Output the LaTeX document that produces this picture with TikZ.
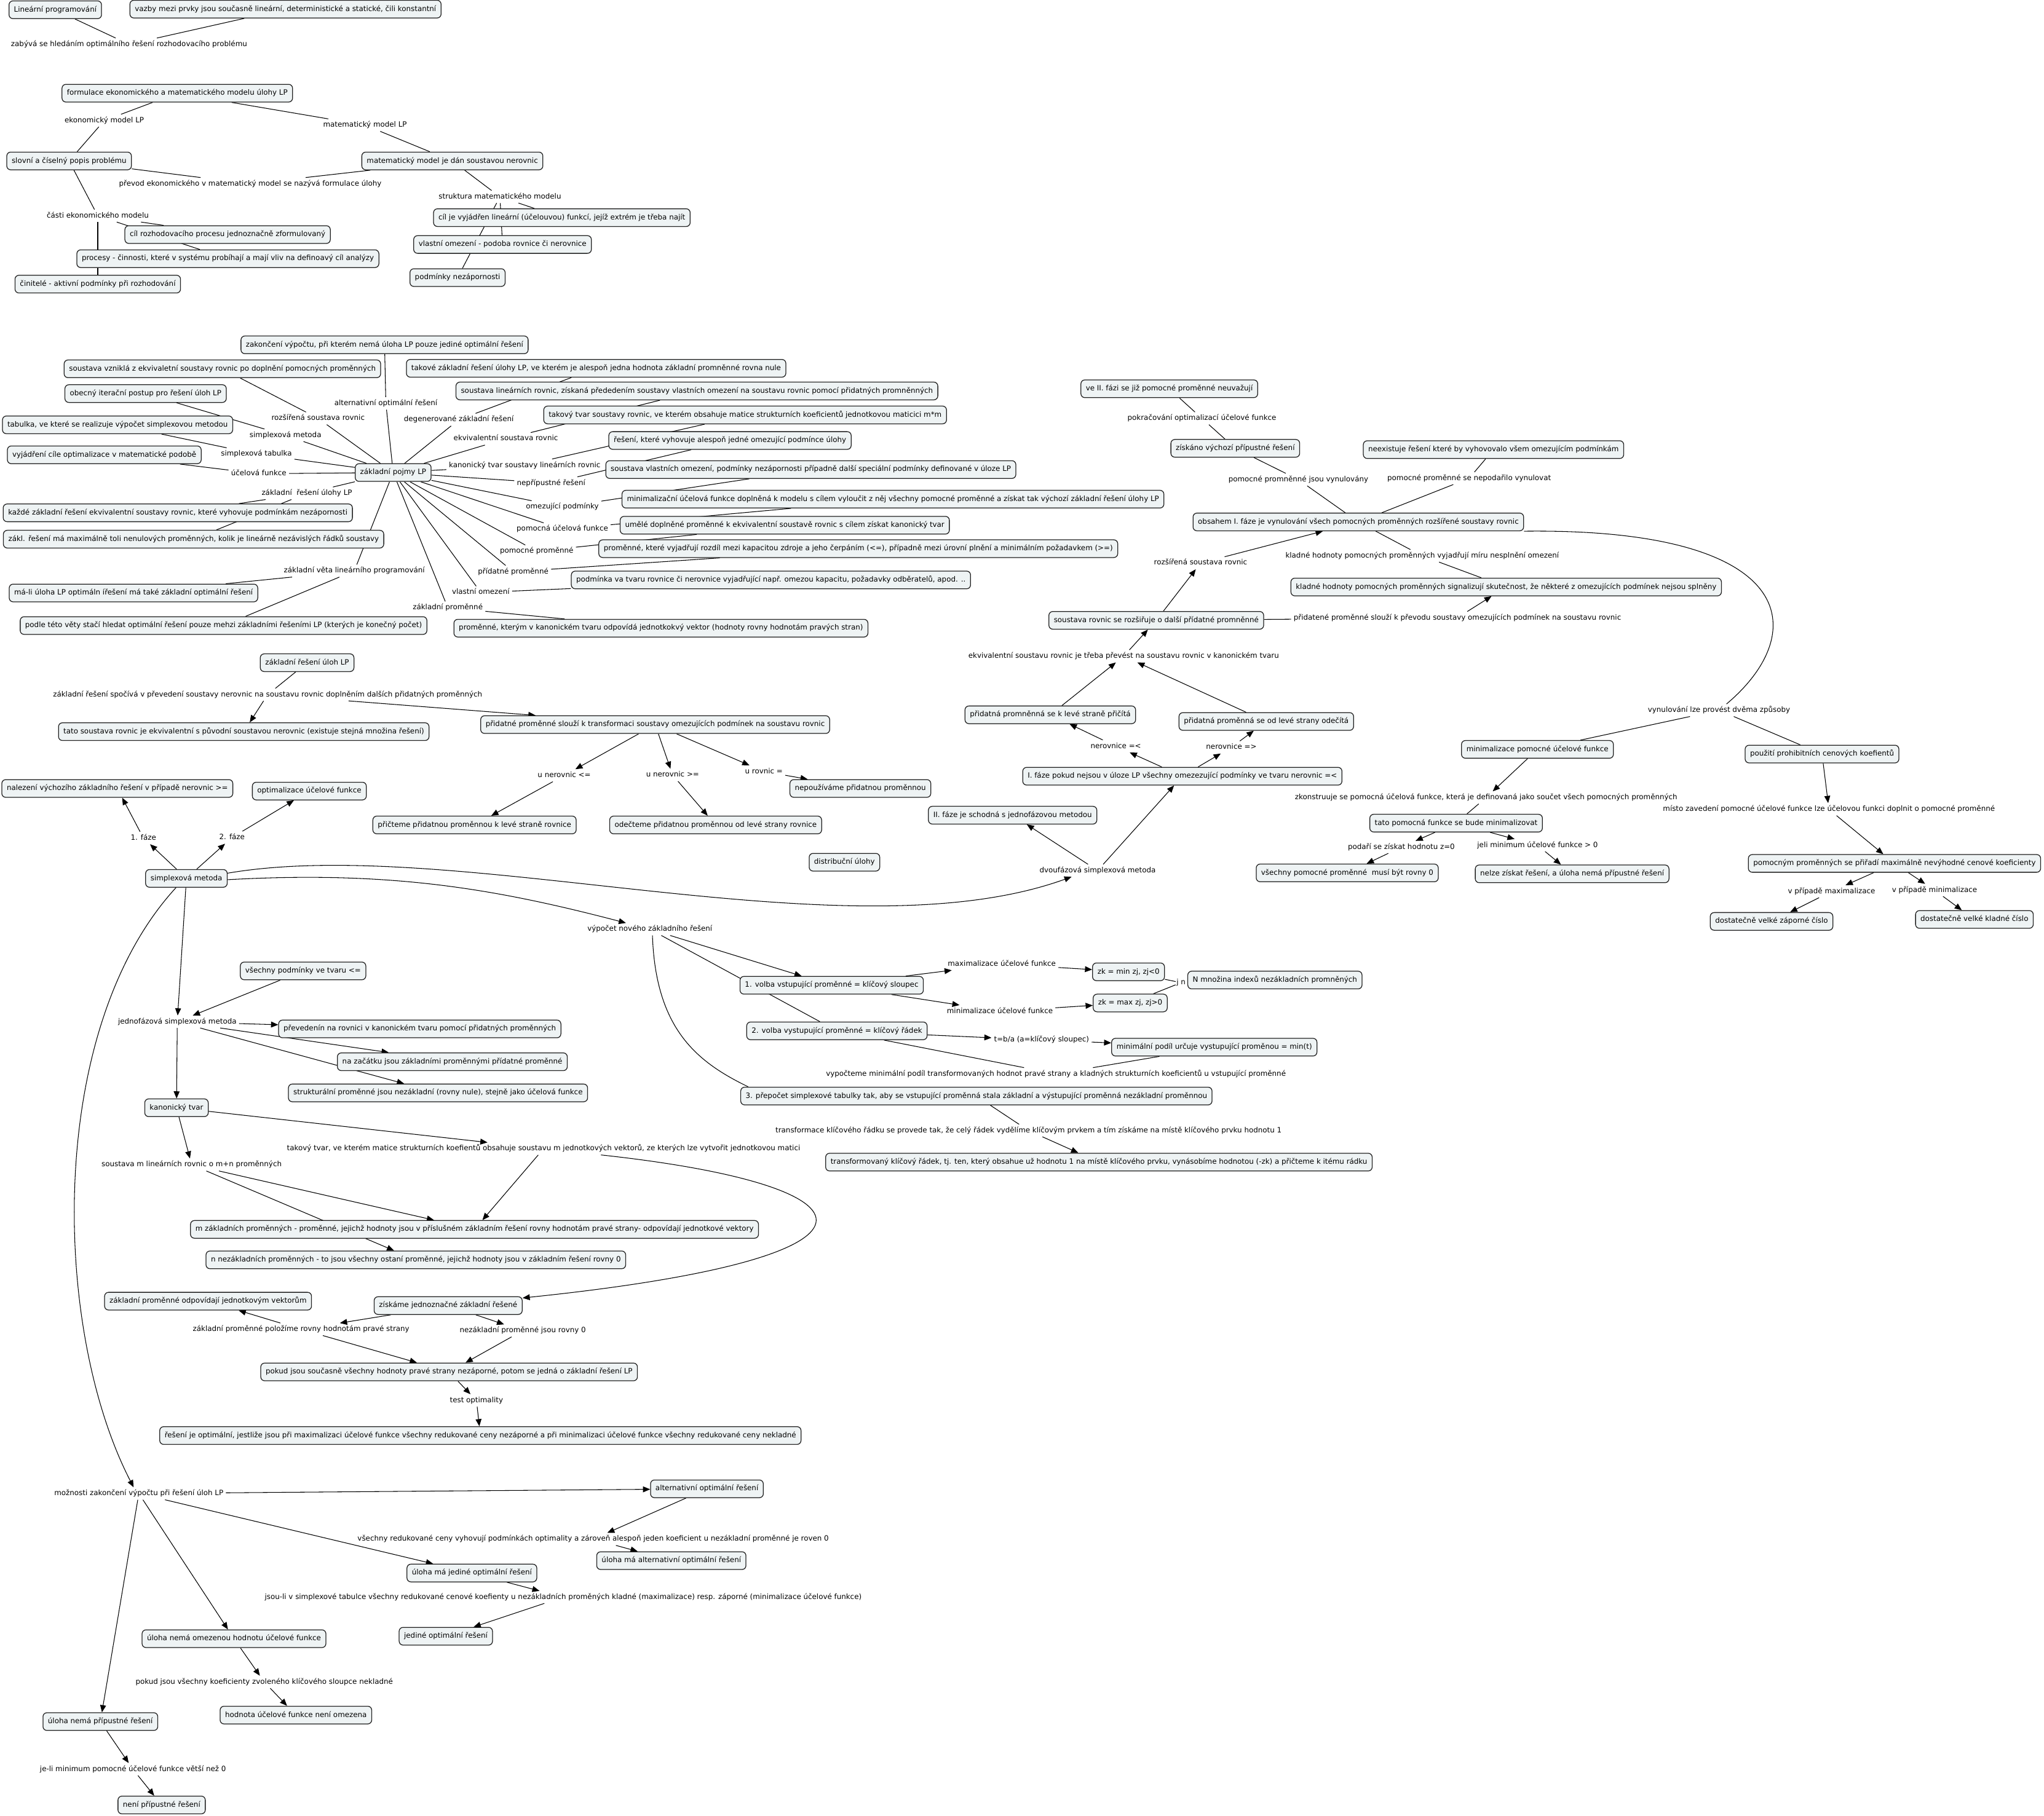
\documentclass[tikz,border=0pt]{standalone}
\usepackage{fontspec}
\setmainfont{DejaVu Sans}
\usetikzlibrary{arrows.meta,backgrounds}
\definecolor{boxfill}{RGB}{238,243,244}
\definecolor{boxline}{RGB}{35,35,35}
\begin{document}
\begin{tikzpicture}[x=1pt,y=-1pt]
\tikzset{txt/.style={font=\fontsize{5.6}{6.6}\selectfont,text height=4.3pt,text depth=1.3pt},
  box/.style={txt,draw=boxline,fill=boxfill,rounded corners=3pt,line width=0.6pt,inner xsep=3.8pt,inner ysep=4pt},
  lbl/.style={txt,inner sep=1.8pt},
  ln/.style={line width=0.5pt},
  arr/.style={line width=0.5pt,-{Triangle[length=5.5pt,width=4.5pt]}}}
\useasboundingbox (0,0) rectangle (1568,1393);

\node[box] (lp) at (42.4,7.5) {Lineární programování};
\node[box] (vazby) at (219,7) {vazby mezi prvky jsou současně lineární, deterministické a statické, čili konstantní};
\node[lbl] (zabyva) at (99,34) {zabývá se hledáním optimálního řešení rozhodovacího problému};

\node[box] (formul) at (136,71.5) {formulace ekonomického a matematického modelu úlohy LP};
\node[lbl] (ekmod) at (80,92.5) {ekonomický model LP};
\node[lbl] (matmod) at (280,96) {matematický model LP};
\node[box] (popis) at (53,123.5) {slovní a číselný popis problému};
\node[box] (nerovnic) at (347,123.5) {matematický model je dán soustavou nerovnic};
\node[lbl] (prevod) at (192,141) {převod ekonomického v matematický model se nazývá formulace úlohy};
\node[lbl] (strukt) at (383.5,151) {struktura matematického modelu};
\node[lbl] (casti) at (75,165.6) {části ekonomického modelu};
\node[box] (cilfce) at (431,167) {cíl je vyjádřen lineární (účelouvou) funkcí, jejíž extrém je třeba najít};
\node[box] (cilproc) at (174.6,180) {cíl rozhodovacího procesu jednoznačně zformulovaný};
\node[box] (vlomez) at (385.5,187.6) {vlastní omezení - podoba rovnice či nerovnice};
\node[box] (procesy) at (174.8,198.5) {procesy - činnosti, které v systému probíhají a mají vliv na definoavý cíl analýzy};
\node[box] (nezap) at (351,213) {podmínky nezápornosti};
\node[box] (cinitele) at (75,218) {činitelé - aktivní podmínky při rozhodování};

\node[box] (pojmy) at (301.6,362.6) {základní pojmy LP};
\node[box] (zakonceni) at (295,264.6) {zakončení výpočtu, při kterém nemá úloha LP pouze jediné optimální řešení};
\node[box] (vznikla) at (170.6,283) {soustava vzniklá z ekvivaletní soustavy rovnic po doplnění pomocných proměnných};
\node[box] (degdef) at (457.3,282.6) {takové základní řešení úlohy LP, ve kterém je alespoň jedna hodnota základní promněnné rovna nule};
\node[box] (iterace) at (111.7,302) {obecný iterační postup pro řešení úloh LP};
\node[box] (ekvdef) at (534.6,300) {soustava lineárních rovnic, získaná přededením soustavy vlastních omezení na soustavu rovnic pomocí přidatných promněnných};
\node[lbl] (altopt) at (296,309.5) {alternativní optimální řešení};
\node[box] (kandef) at (571.6,318.4) {takový tvar soustavy rovnic, ve kterém obsahuje matice strukturních koeficientů jednotkovou maticici m*m};
\node[box] (tabdef) at (90.2,326) {tabulka, ve které se realizuje výpočet simplexovou metodou};
\node[lbl] (rozsir) at (244,321) {rozšířená soustava rovnic};
\node[lbl] (degen) at (352,322) {degenerované základní řešení};
\node[lbl] (smetoda) at (219,334) {simplexová metoda};
\node[box] (nepdef) at (560,338) {řešení, které vyhovuje alespoň jedné omezující podmínce úlohy};
\node[lbl] (ekviv) at (388,336.7) {ekvivalentní soustava rovnic};
\node[box] (ucdef) at (80,349) {vyjádření cíle optimalizace v matematické podobě};
\node[lbl] (stab) at (196.7,348.4) {simplexová tabulka};
\node[lbl] (kanon) at (402.5,357) {kanonický tvar soustavy lineárních rovnic};
\node[box] (omdef) at (622,360.3) {soustava vlastních omezení, podmínky nezápornosti případně další speciální podmínky definované v úloze LP};
\node[lbl] (ucel) at (198.5,363.5) {účelová funkce};
\node[lbl] (neprip) at (422.8,370.7) {nepřípustné řešení};
\node[lbl] (zres) at (235.4,378.5) {základní\ \ řešení úlohy LP};
\node[box] (pufdef) at (685,383) {minimalizační účelová funkce doplněná k modelu s cílem vyloučit z něj všechny pomocné proměnné a získat tak výchozí základní řešení úlohy LP};
\node[lbl] (omez) at (431.4,389) {omezující podmínky};
\node[box] (kazde) at (136.4,393.5) {každé základní řešení ekvivalentní soustavy rovnic, které vyhovuje podmínkám nezápornosti};
\node[box] (pomdef) at (602,403) {umělé doplněné proměnné k ekvivalentní soustavě rovnic s cílem získat kanonický tvar};
\node[lbl] (puf) at (431.4,406) {pomocná účelová funkce};
\node[box] (zakl) at (148.5,413.7) {zákl. řešení má maximálně toli nenulových proměnných, kolik je lineárně nezávislých řádků soustavy};
\node[box] (priddef) at (658.4,421) {proměnné, které vyjadřují rozdíl mezi kapacitou zdroje a jeho čerpáním (<=), případně mezi úrovní plnění a minimálním požadavkem (>=)};
\node[lbl] (pomprom) at (411.7,423) {pomocné proměnné};
\node[lbl] (veta) at (271.8,438) {základní věta lineárního programování};
\node[lbl] (pridprom) at (393.7,438.7) {přídatné proměnné};
\node[box] (vldef) at (591.4,445) {podmínka va tvaru rovnice či nerovnice vyjadřující např. omezou kapacitu, požadavky odběratelů, apod. ..};
\node[lbl] (vlom) at (368.8,454.6) {vlastní omezení};
\node[box] (mali) at (102.4,455) {má-li úloha LP optimáln ířešení má také základní optimální řešení};
\node[lbl] (zprom) at (343.5,466.3) {základní proměnné};
\node[box] (podle) at (171.5,480) {podle této věty stačí hledat optimální řešení pouze mehzi základními řešeními LP (kterých je konečný počet)};
\node[box] (zpdef) at (507,482) {proměnné, kterým v kanonickém tvaru odpovídá jednotkokvý vektor (hodnoty rovny hodnotám pravých stran)};

\node[box] (zrul) at (235.6,508.5) {základní řešení úloh LP};
\node[lbl] (spociva) at (205.3,533) {základní řešení spočívá v převedení soustavy nerovnic na soustavu rovnic doplněním dalších přidatných proměnných};
\node[box] (ekvnerov) at (187,561.4) {tato soustava rovnic je ekvivalentní s původní soustavou nerovnic (existuje stejná množina řešení)};
\node[box] (transf) at (502.6,556) {přidatné proměnné slouží k transformaci soustavy omezujících podmínek na soustavu rovnic};
\node[lbl] (unle) at (432.8,595) {u nerovnic <=};
\node[lbl] (unge) at (516,594.7) {u nerovnic >=};
\node[lbl] (ueq) at (586,592) {u rovnic =};
\node[box] (pricteme) at (364,633) {přičteme přidatnou proměnnou k levé straně rovnice};
\node[box] (odecteme) at (549,633) {odečteme přidatnou proměnnou od levé strany rovnice};
\node[box] (nepouz) at (660,605) {nepoužíváme přidatnou proměnnou};
\node[box] (distrib) at (647.8,661.6) {distribuční úlohy};

\node[box] (simplex) at (143,674) {simplexová metoda};
\node[lbl] (faze1) at (110,643) {1. fáze};
\node[lbl] (faze2) at (178,642.6) {2. fáze};
\node[box] (nalez) at (90,605) {nalezení výchozího základního řešení v případě nerovnic >=};
\node[box] (optuc) at (237.3,607) {optimalizace účelové funkce};

\node[lbl] (jednof) at (136,784) {jednofázová simplexová metoda};
\node[box] (vsepod) at (232.5,745) {všechny podmínky ve tvaru <=};
\node[box] (preved) at (322,789.5) {převedenín na rovnici v kanonickém tvaru pomocí přidatných proměnných};
\node[box] (nazac) at (347,814.7) {na začátku jsou základními proměnnými přídatné proměnné};
\node[box] (strukt0) at (336,838.6) {strukturální proměnné jsou nezákladní (rovny nule), stejně jako účelová funkce};
\node[box] (kanon2) at (135.4,850) {kanonický tvar};

\node[lbl] (taktvar) at (417,881.4) {takový tvar, ve kterém matice strukturních koefientů obsahuje soustavu m jednotkových vektorů, ze kterých lze vytvořit jednotkovou matici};
\node[lbl] (soustm) at (147,893.7) {soustava m lineárních rovnic o m+n proměnných};
\node[box] (mzakl) at (364,943.3) {m základních proměnných - proměnné, jejichž hodnoty jsou v příslušném základním řešení rovny hodnotám pravé strany- odpovídají jednotkové vektory};
\node[box] (nnezakl) at (319,966.7) {n nezákladních proměnných - to jsou všechny ostaní proměnné, jejichž hodnoty jsou v základním řešení rovny 0};
\node[box] (zpjv) at (159.6,998.4) {základní proměnné odpovídají jednotkovým vektorům};
\node[box] (ziskame) at (343.8,1001.8) {získáme jednoznačné základní řešené};

\node[lbl] (polozime) at (231,1020) {základní proměnné položíme rovny hodnotám pravé strany};
\node[lbl] (nezrovny) at (401,1021) {nezákladní proměnné jsou rovny 0};
\node[box] (pokud) at (344.5,1052.7) {pokud jsou současně všechny hodnoty pravé strany nezáporné, potom se jedná o základní řešení LP};
\node[lbl] (test) at (365.5,1074.6) {test optimality};
\node[box] (optim) at (368.5,1101.5) {řešení je optimální, jestliže jsou při maximalizaci účelové funkce všechny redukované ceny nezáporné a při minimalizaci účelové funkce všechny redukované ceny nekladné};

\node[lbl] (moznosti) at (106.5,1146) {možnosti zakončení výpočtu při řešení úloh LP};
\node[box] (altbox) at (542.3,1142.4) {alternativní optimální řešení};
\node[lbl] (vsred) at (455,1181) {všechny redukované ceny vyhovují podmínkách optimality a zároveň alespoň jeden koeficient u nezákladní proměnné je roven 0};
\node[box] (ulalt) at (515,1197.5) {úloha má alternativní optimální řešení};
\node[box] (uljed) at (362,1207) {úloha má jediné optimální řešení};
\node[lbl] (jsouli) at (432,1225.5) {jsou-li v simplexové tabulce všechny redukované cenové koefienty u nezákladních proměných kladné (maximalizace) resp. záporné (minimalizace účelové funkce)};
\node[box] (jedopt) at (342,1255.5) {jediné optimální řešení};
\node[box] (neomez) at (179.5,1257.4) {úloha nemá omezenou hodnotu účelové funkce};
\node[lbl] (koefnekl) at (202.7,1290.6) {pokud jsou všechny koeficienty zvoleného klíčového sloupce nekladné};
\node[box] (hodnota) at (227,1316) {hodnota účelové funkce není omezena};
\node[box] (nepripb) at (77,1321) {úloha nemá přípustné řešení};
\node[lbl] (jelimin) at (102,1357.6) {je-li minimum pomocné účelové funkce větší než 0};
\node[box] (neni) at (124,1385) {není přípustné řešení};

\node[lbl] (vyp) at (498.5,713) {výpočet nového základního řešení};
\node[box] (volba1) at (638,756) {1. volba vstupující proměnné = klíčový sloupec};
\node[box] (volba2) at (642,791) {2. volba vystupující proměnné = klíčový řádek};
\node[box] (prepocet) at (749,841) {3. přepočet simplexové tabulky tak, aby se vstupující proměnná stala základní a výstupující proměnná nezákladní proměnnou};
\node[lbl] (maxim) at (768.5,739.7) {maximalizace účelové funkce};
\node[lbl] (minim) at (767,776) {minimalizace účelové funkce};
\node[box] (zkmin) at (865.7,745.7) {zk = min zj, zj<0};
\node[box] (zkmax) at (867,769.6) {zk = max zj, zj>0};
\node[lbl,inner sep=0.5pt] (jn) at (906,754) {j n};
\node[box] (nbox) at (978,752) {N množina indexů nezákladních promněných};
\node[lbl] (tba) at (799,798) {t=b/a (a=klíčový sloupec)};
\node[box] (minpod) at (931.5,803.5) {minimální podíl určuje vystupující proměnou = min(t)};
\node[lbl] (vypoct) at (810,824) {vypočteme minimální podíl transformovaných hodnot pravé strany a kladných strukturních koeficientů u vstupující proměnné};
\node[lbl] (transl) at (789,867.5) {transformace klíčového řádku se provede tak, že celý řádek vydělíme klíčovým prvkem a tím získáme na místě klíčového prvku hodnotu 1};
\node[box] (transfbox) at (843,891.7) {transformovaný klíčový řádek, tj. ten, který obsahue už hodnotu 1 na místě klíčového prvku, vynásobíme hodnotou (-zk) a přičteme k itému rádku};

\node[lbl] (dvou) at (842,668) {dvoufázová simplexová metoda};
\node[box] (faze1box) at (907,595.6) {I. fáze pokud nejsou v úloze LP všechny omezezující podmínky ve tvaru nerovnic =<};
\node[box] (faze2box) at (776.8,625.5) {II. fáze je schodná s jednofázovou metodou};
\node[lbl] (ner1) at (856,572.6) {nerovnice =<};
\node[lbl] (ner2) at (944.6,573.4) {nerovnice =>};
\node[box] (pricita) at (805.7,548.5) {přidatná promněnná se k levé straně přičítá};
\node[box] (odecita) at (971.4,553.6) {přidatná proměnná se od levé strany odečítá};
\node[lbl] (ekvcan) at (862,503.5) {ekvivalentní soustavu rovnic je třeba převést na soustavu rovnic v kanonickém tvaru};
\node[box] (rozsiruje) at (887,476) {soustava rovnic se rozšiřuje o další přídatné promněnné};
\node[lbl] (rozsir2) at (921,432) {rozšířená soustava rovnic};
\node[lbl] (pridat) at (1118,474) {přidatené proměnné slouží k převodu soustavy omezujících podmínek na soustavu rovnic};
\node[box] (obsahem) at (1042,400.5) {obsahem I. fáze je vynulování všech pomocných proměnných rozšířené soustavy rovnic};
\node[lbl] (kladvyj) at (1091,426.5) {kladné hodnoty pomocných proměnných vyjadřují míru nesplnění omezení};
\node[box] (kladsig) at (1155.4,450.4) {kladné hodnoty pomocných proměnných signalizují skutečnost, že některé z omezujících podmínek nejsou splněny};
\node[lbl] (vynul) at (996,368) {pomocné promněnné jsou vynulovány};
\node[lbl] (nepod) at (1127,367) {pomocné proměnné se nepodařilo vynulovat};
\node[box] (ziskano) at (947.6,344) {získáno výchozí přípustné řešení};
\node[box] (neexist) at (1145.7,345) {neexistuje řešení které by vyhovovalo všem omezujícím podmínkám};
\node[lbl] (pokrac) at (922,321) {pokračování optimalizací účelové funkce};
\node[box] (ve2) at (897,298.3) {ve II. fázi se již pomocné proměnné neuvažují};

\node[lbl] (vynulovani) at (1318.7,545) {vynulování lze provést dvěma způsoby};
\node[box] (minpuf) at (1179.4,575) {minimalizace pomocné účelové funkce};
\node[box] (pouziti) at (1397.7,578.6) {použití prohibitních cenových koefientů};
\node[lbl] (zkonstr) at (1140,612) {zkonstruuje se pomocná účelová funkce, která je definovaná jako součet všech pomocných proměnných};
\node[box] (tato) at (1117,631.6) {tato pomocná funkce se bude minimalizovat};
\node[lbl] (podari) at (1075,650) {podaří se získat hodnotu z=0};
\node[lbl] (jeli) at (1179.5,648.6) {jeli minimum účelové funkce > 0};
\node[box] (vsechpom) at (1033.5,669.8) {všechny pomocné proměnné\ \ musí být rovny 0};
\node[box] (nelze) at (1206,670.5) {nelze získat řešení, a úloha nemá přípustné řešení};
\node[lbl] (misto) at (1403,621) {místo zavedení pomocné účelové funkce lze účelovou funkci doplnit o pomocné proměnné};
\node[box] (pomocnym) at (1453.3,662.5) {pomocným proměnných se přiřadí maximálně nevýhodné cenové koeficienty};
\node[lbl] (vpmax) at (1405,684) {v případě maximalizace};
\node[lbl] (vpmin) at (1484,683) {v případě minimalizace};
\node[box] (zaporne) at (1359,707) {dostatečně velké záporné číslo};
\node[box] (kladne) at (1514.6,705.5) {dostatečně velké kladné číslo};

\begin{scope}[on background layer]
\draw[ln] (lp) -- (zabyva);
\draw[ln] (vazby) -- (zabyva);
\draw[ln] (formul) -- (ekmod);
\draw[ln] (ekmod) -- (popis);
\draw[ln] (formul) -- (matmod);
\draw[ln] (matmod) -- (nerovnic);
\draw[ln] (popis) -- (prevod);
\draw[ln] (nerovnic) -- (prevod);
\draw[ln] (nerovnic) -- (strukt);
\draw[ln] (strukt) -- (cilfce);
\draw[ln] (strukt) -- (vlomez);
\draw[ln] (strukt) -- (nezap);
\draw[ln] (popis) -- (casti);
\draw[ln] (casti) -- (cilproc);
\draw[ln] (casti) -- (procesy);
\draw[ln] (casti) -- (cinitele);

\draw[ln] (pojmy) -- (altopt);
\draw[ln] (altopt) -- (zakonceni);
\draw[ln] (pojmy) -- (rozsir);
\draw[ln] (rozsir) -- (vznikla);
\draw[ln] (pojmy) -- (degen);
\draw[ln] (degen) -- (degdef);
\draw[ln] (pojmy) -- (smetoda);
\draw[ln] (smetoda) -- (iterace);
\draw[ln] (pojmy) -- (ekviv);
\draw[ln] (ekviv) -- (ekvdef);
\draw[ln] (pojmy) -- (stab);
\draw[ln] (stab) -- (tabdef);
\draw[ln] (pojmy) -- (kanon);
\draw[ln] (kanon) -- (kandef);
\draw[ln] (pojmy) -- (ucel);
\draw[ln] (ucel) -- (ucdef);
\draw[ln] (pojmy) -- (neprip);
\draw[ln] (neprip) -- (nepdef);
\draw[ln] (pojmy) -- (zres);
\draw[ln] (zres) -- (kazde);
\draw[ln] (zres) -- (zakl);
\draw[ln] (pojmy) -- (omez);
\draw[ln] (omez) -- (omdef);
\draw[ln] (pojmy) -- (puf);
\draw[ln] (puf) -- (pufdef);
\draw[ln] (pojmy) -- (pomprom);
\draw[ln] (pomprom) -- (pomdef);
\draw[ln] (pojmy) -- (veta);
\draw[ln] (veta) -- (mali);
\draw[ln] (veta) -- (podle);
\draw[ln] (pojmy) -- (pridprom);
\draw[ln] (pridprom) -- (priddef);
\draw[ln] (pojmy) -- (vlom);
\draw[ln] (vlom) -- (vldef);
\draw[ln] (pojmy) -- (zprom);
\draw[ln] (zprom) -- (zpdef);

\draw[ln] (zrul) -- (spociva);
\draw[arr] (spociva) -- (ekvnerov);
\draw[arr] (spociva) -- (transf);
\draw[arr] (transf) -- (unle);
\draw[arr] (unle) -- (pricteme);
\draw[arr] (transf) -- (unge);
\draw[arr] (unge) -- (odecteme);
\draw[arr] (transf) -- (ueq);
\draw[arr] (ueq) -- (nepouz);

\draw[arr] (simplex) -- (faze1);
\draw[arr] (faze1) -- (nalez);
\draw[arr] (simplex) -- (faze2);
\draw[arr] (faze2) -- (optuc);
\draw[arr] ([yshift=4pt]simplex.east) .. controls (350,640) and (650,735) .. ([xshift=-20pt]dvou.south);
\draw[arr] ([yshift=-1pt]simplex.east) .. controls (300,668) and (380,682) .. (vyp);
\draw[arr] ([xshift=-8pt]simplex.south) .. controls (35,790) and (40,1020) .. ([xshift=-4pt]moznosti.north);
\draw[arr] (simplex) -- (jednof);

\draw[arr] (vsepod) -- (jednof);
\draw[arr] (jednof) -- (preved);
\draw[arr] (jednof) -- (nazac);
\draw[arr] (jednof) -- (strukt0);
\draw[arr] (jednof) -- (kanon2);
\draw[arr] (kanon2) -- (taktvar);
\draw[arr] (kanon2) -- (soustm);
\draw[arr] (soustm) -- (mzakl);
\draw[arr] (soustm) -- (nnezakl);
\draw[arr] (taktvar) -- (mzakl);
\draw[arr] ([xshift=44pt]taktvar.south) .. controls (680,910) and (700,965) .. (ziskame);

\draw[arr] (ziskame) -- (polozime);
\draw[arr] (ziskame) -- (nezrovny);
\draw[arr] (polozime) -- (zpjv);
\draw[arr] (polozime) -- (pokud);
\draw[arr] (nezrovny) -- (pokud);
\draw[arr] (pokud) -- (test);
\draw[arr] (test) -- (optim);

\draw[arr] (moznosti) -- (altbox);
\draw[arr] (altbox) -- (vsred);
\draw[arr] (vsred) -- (ulalt);
\draw[arr] (moznosti) -- (uljed);
\draw[arr] (uljed) -- (jsouli);
\draw[arr] (jsouli) -- (jedopt);
\draw[arr] (moznosti) -- (neomez);
\draw[arr] (neomez) -- (koefnekl);
\draw[arr] (koefnekl) -- (hodnota);
\draw[arr] (moznosti) -- (nepripb);
\draw[arr] (nepripb) -- (jelimin);
\draw[arr] (jelimin) -- (neni);

\draw[arr] (vyp) -- (volba1);
\draw[ln] (vyp) -- (volba2);
\draw[ln] ([xshift=2pt]vyp.south) .. controls (503,790) and (535,815) .. ([xshift=6pt]prepocet.north west);
\draw[arr] (volba1) -- (maxim);
\draw[arr] (maxim) -- (zkmin);
\draw[arr] (volba1) -- (minim);
\draw[arr] (minim) -- (zkmax);
\draw[ln] (zkmin) -- (jn);
\draw[ln] (zkmax) -- (jn);
\draw[arr] (volba2) -- (tba);
\draw[arr] (tba) -- (minpod);
\draw[ln] (volba2) -- (vypoct);
\draw[ln] (minpod) -- (vypoct);
\draw[ln] (prepocet) -- (transl);
\draw[arr] (transl) -- (transfbox);

\draw[arr] (dvou) -- (faze1box);
\draw[arr] (dvou) -- (faze2box);
\draw[arr] (faze1box) -- (ner1);
\draw[arr] (ner1) -- (pricita);
\draw[arr] (faze1box) -- (ner2);
\draw[arr] (ner2) -- (odecita);
\draw[arr] (pricita) -- (ekvcan);
\draw[arr] (odecita) -- (ekvcan);
\draw[arr] (ekvcan) -- (rozsiruje);
\draw[arr] (rozsiruje) -- (rozsir2);
\draw[arr] (rozsir2) -- (obsahem);
\draw[ln] (rozsiruje) -- (pridat);
\draw[arr] (pridat) -- (kladsig);
\draw[ln] (obsahem) -- (kladvyj);
\draw[ln] (kladvyj) -- (kladsig);
\draw[ln] (obsahem) -- (vynul);
\draw[ln] (vynul) -- (ziskano);
\draw[ln] (ziskano) -- (pokrac);
\draw[ln] (pokrac) -- (ve2);
\draw[ln] (obsahem) -- (nepod);
\draw[ln] (nepod) -- (neexist);
\draw[ln] (obsahem.south east) .. controls (1380,405) and (1390,485) .. (vynulovani);
\draw[ln] (vynulovani) -- (minpuf);
\draw[ln] (vynulovani) -- (pouziti);
\draw[arr] (minpuf) -- (zkonstr);
\draw[ln] (zkonstr) -- (tato);
\draw[arr] (tato) -- (podari);
\draw[arr] (podari) -- (vsechpom);
\draw[arr] (tato) -- (jeli);
\draw[arr] (jeli) -- (nelze);
\draw[arr] (pouziti) -- (misto);
\draw[arr] (misto) -- (pomocnym);
\draw[arr] (pomocnym) -- (vpmax);
\draw[arr] (vpmax) -- (zaporne);
\draw[arr] (pomocnym) -- (vpmin);
\draw[arr] (vpmin) -- (kladne);
\end{scope}
\end{tikzpicture}
\end{document}
